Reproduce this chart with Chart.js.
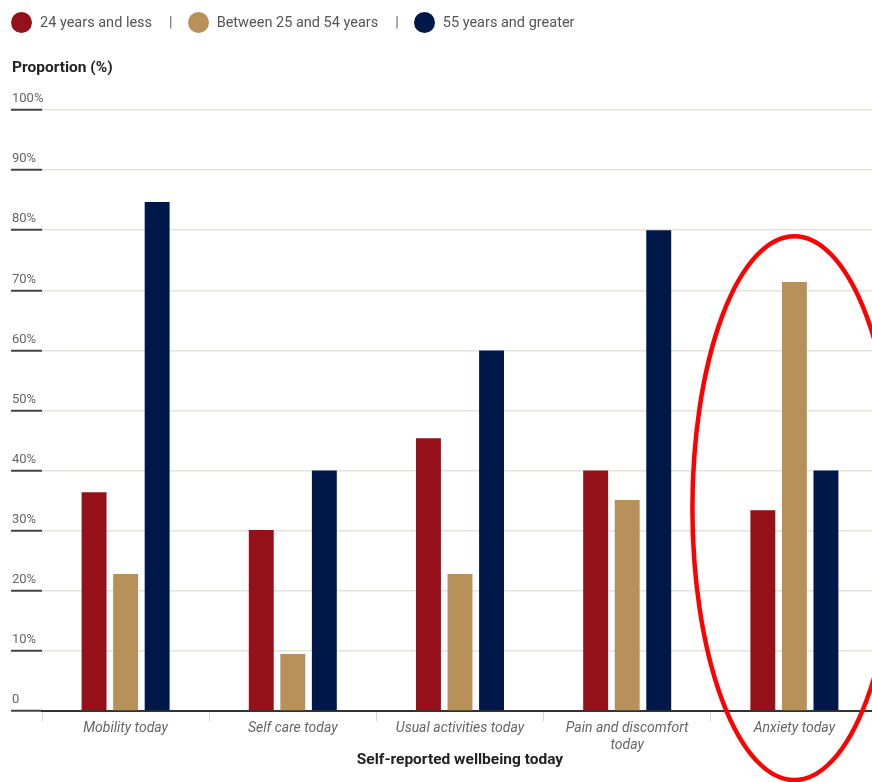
<!DOCTYPE html>
<html>
<head>
<meta charset="utf-8">
<script src="https://cdn.jsdelivr.net/npm/chart.js@4.4.1/dist/chart.umd.min.js"></script>
<style>
  html, body { margin: 0; padding: 0; background: #fff; overflow: hidden; }
  body { font-family: Roboto, "Open Sans", sans-serif; }
  .wrap { position: relative; width: 880px; height: 782px; }
  #legend { position: absolute; left: 11px; top: 12px; display: flex; align-items: center; font-size: 14.5px; color: #555; white-space: nowrap; }
  #legend .dot { width: 21px; height: 21px; border-radius: 50%; display: inline-block; margin-right: 8px; }
  #legend .sep { margin: 0 15px 0 17px; color: #666; }
  #ytitle { position: absolute; left: 12px; top: 58px; font-size: 15.5px; font-weight: bold; color: #222; }
</style>
</head>
<body>
<div class="wrap">
  <div id="legend"></div>
  <div id="ytitle">Proportion (%)</div>
  <canvas id="chart"></canvas>
</div>
<script>
// categories and values
const categories = ['Mobility today', 'Self care today', 'Usual activities today', ['Pain and discomfort', 'today'], 'Anxiety today'];
const seriesNames = ['24 years and less', 'Between 25 and 54 years', '55 years and greater'];
const seriesColors = ['#951119', '#b8905a', '#001848'];
const young = [36.4, 30.1, 45.4, 40.0, 33.4];
const middle = [22.8, 9.5, 22.8, 35.1, 71.4];
const older = [84.7, 40.0, 60.0, 80.0, 40.0];
const yTicks = [0, 10, 20, 30, 40, 50, 60, 70, 80, 90, 100];
const yTickLabels = ['0', '10%', '20%', '30%', '40%', '50%', '60%', '70%', '80%', '90%', '100%'];

// red ellipse drawn round the last category
const highlightIndex = 4;
const highlightFrom = -11.5;
const highlightTo = 79;

document.addEventListener('DOMContentLoaded', () => {
    // html legend with separators
    const legend = document.getElementById('legend');
    seriesNames.forEach((name, i) => {
        if (i > 0) {
            const sep = document.createElement('span');
            sep.className = 'sep';
            sep.textContent = '|';
            legend.appendChild(sep);
        }
        const dot = document.createElement('span');
        dot.className = 'dot';
        dot.style.background = seriesColors[i];
        legend.appendChild(dot);
        const label = document.createElement('span');
        label.textContent = name;
        legend.appendChild(label);
    });

    const ellipsePlugin = {
        id: 'ellipse',
        afterDraw(chart) {
            const x = chart.scales.x;
            const y = chart.scales.y;
            const cx = x.getPixelForValue(highlightIndex);
            const top = y.getPixelForValue(highlightTo);
            const bottom = y.getPixelForValue(highlightFrom);
            const rx = (x.getPixelForValue(1) - x.getPixelForValue(0)) * 0.61;
            const ctx = chart.ctx;
            ctx.save();
            ctx.strokeStyle = '#ff0000';
            ctx.lineWidth = 4.5;
            ctx.beginPath();
            ctx.ellipse(cx, (top + bottom) / 2, rx, (bottom - top) / 2, 0, 0, Math.PI * 2);
            ctx.stroke();
            ctx.restore();
        }
    };

    const ctx = document.getElementById('chart').getContext('2d');
    new Chart(ctx, {
        type: 'bar',
        data: {
            labels: categories,
            datasets: [young, middle, older].map((values, i) => ({
                label: seriesNames[i],
                data: values,
                backgroundColor: seriesColors[i],
                borderWidth: 0
            }))
        },
        options: {
            responsive: true,
            maintainAspectRatio: false,
            animation: false,
            categoryPercentage: 0.566,
            barPercentage: 0.79,
            layout: { padding: { left: 11, right: 2, top: 110, bottom: 0 } },
            plugins: {
                legend: { display: false },
                tooltip: { enabled: false }
            },
            scales: {
                x: {
                    grid: {
                        offset: true,
                        drawOnChartArea: false,
                        drawTicks: true,
                        tickLength: 10,
                        tickColor: '#d6d6d6',
                        tickWidth: 1
                    },
                    border: { display: true, color: '#333', width: 2 },
                    ticks: {
                        padding: -1,
                        color: '#666',
                        font: { family: 'Roboto', size: 14, style: 'italic' },
                        maxRotation: 0,
                        autoSkip: false
                    },
                    title: {
                        display: true,
                        text: 'Self-reported wellbeing today',
                        color: '#222',
                        font: { family: 'Roboto', size: 15.5, weight: 'bold' },
                        padding: { top: 0, bottom: 13 }
                    },
                    afterFit(scale) { scale.height = 71; }
                },
                y: {
                    min: 0,
                    max: 100,
                    afterBuildTicks(scale) {
                        scale.ticks = yTicks.map(v => ({ value: v }));
                    },
                    grid: {
                        color: '#e4e4df',
                        lineWidth: 1.5,
                        drawTicks: true,
                        tickLength: 31,
                        tickColor: '#444',
                        tickWidth: 2
                    },
                    border: { display: false },
                    ticks: {
                        mirror: true,
                        padding: -30,
                        labelOffset: -11,
                        color: '#666',
                        font: { family: 'Roboto', size: 13 },
                        callback: (value) => yTickLabels[yTicks.indexOf(value)]
                    },
                    afterFit(scale) { scale.width = 31; }
                }
            }
        },
        plugins: [ellipsePlugin]
    });
});
</script>
</body>
</html>
